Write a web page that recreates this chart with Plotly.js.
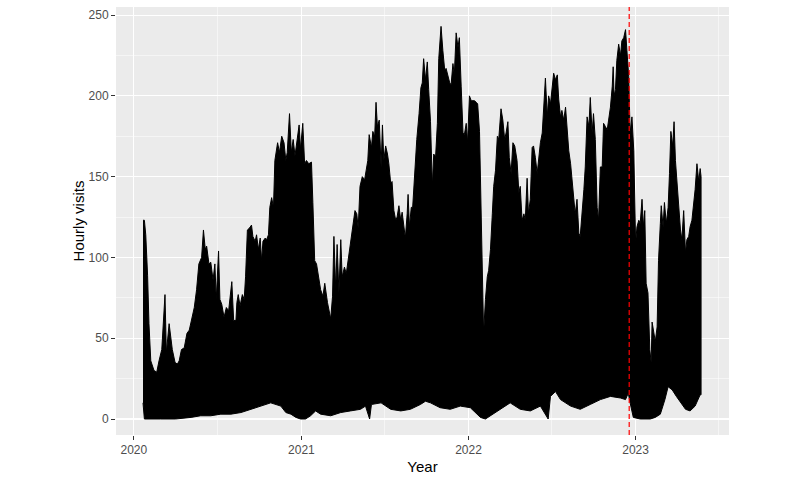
<!DOCTYPE html>
<html><head><meta charset="utf-8">
<script src="https://cdn.plot.ly/plotly-3.0.1.min.js"></script>
<style>html,body{margin:0;padding:0;background:#fff}#chart{width:800px;height:480px}</style>
</head><body><div id="chart"></div>
<script>
// Upper envelope of hourly visits (peaks)
const upperDates = [
"2020-01-21","2020-01-24","2020-01-27","2020-01-31","2020-02-03","2020-02-07","2020-02-14","2020-02-20","2020-02-25","2020-03-02",
"2020-03-09","2020-03-12","2020-03-18","2020-03-22","2020-03-25","2020-03-31","2020-04-05","2020-04-09","2020-04-14","2020-04-20",
"2020-04-26","2020-05-01","2020-05-06","2020-05-12","2020-05-17","2020-05-22","2020-05-28","2020-06-01","2020-06-05","2020-06-08",
"2020-06-13","2020-06-17","2020-06-22","2020-06-26","2020-06-29","2020-07-04","2020-07-07","2020-07-11","2020-07-16","2020-07-21",
"2020-07-26","2020-08-02","2020-08-06","2020-08-11","2020-08-13","2020-08-16","2020-08-20","2020-08-25","2020-08-29","2020-09-01",
"2020-09-05","2020-09-09","2020-09-14","2020-09-17","2020-09-22","2020-09-25","2020-09-29","2020-10-03","2020-10-06","2020-10-09",
"2020-10-14","2020-10-17","2020-10-21","2020-10-24","2020-10-28","2020-11-01","2020-11-04","2020-11-10","2020-11-14","2020-11-19",
"2020-11-24","2020-11-28","2020-12-01","2020-12-06","2020-12-10","2020-12-14","2020-12-18","2020-12-23","2020-12-27","2020-12-30",
"2021-01-04","2021-01-08","2021-01-12","2021-01-17","2021-01-23","2021-01-26","2021-01-30","2021-02-03","2021-02-07","2021-02-12",
"2021-02-17","2021-02-21","2021-02-27","2021-03-04","2021-03-06","2021-03-10","2021-03-13","2021-03-17","2021-03-20","2021-03-24",
"2021-03-28","2021-03-31","2021-04-05","2021-04-09","2021-04-13","2021-04-16","2021-04-21","2021-04-24","2021-04-28","2021-05-02",
"2021-05-05","2021-05-09","2021-05-14","2021-05-19","2021-05-23","2021-05-26","2021-05-29","2021-06-03","2021-06-06","2021-06-10",
"2021-06-13","2021-06-16","2021-06-20","2021-06-24","2021-06-27","2021-06-30","2021-07-04","2021-07-08","2021-07-11","2021-07-15",
"2021-07-18","2021-07-22","2021-07-26","2021-07-29","2021-08-02","2021-08-06","2021-08-09","2021-08-13","2021-08-16","2021-08-20",
"2021-08-22","2021-08-25","2021-08-29","2021-09-01","2021-09-05","2021-09-10","2021-09-15","2021-09-19","2021-09-22","2021-09-25",
"2021-09-29","2021-10-03","2021-10-06","2021-10-10","2021-10-14","2021-10-17","2021-10-21","2021-10-25","2021-10-28","2021-11-02",
"2021-11-06","2021-11-10","2021-11-13","2021-11-17","2021-11-21","2021-11-24","2021-11-28","2021-12-01","2021-12-05","2021-12-09",
"2021-12-12","2021-12-16","2021-12-20","2021-12-23","2021-12-27","2021-12-30","2022-01-03","2022-01-07","2022-01-10","2022-01-14",
"2022-01-18","2022-01-21","2022-01-25","2022-01-29","2022-02-01","2022-02-03","2022-02-07","2022-02-11","2022-02-14","2022-02-18",
"2022-02-22","2022-02-25","2022-03-01","2022-03-05","2022-03-08","2022-03-13","2022-03-17","2022-03-21","2022-03-24","2022-03-28",
"2022-03-31","2022-04-04","2022-04-08","2022-04-12","2022-04-17","2022-04-21","2022-04-24","2022-04-28","2022-05-02","2022-05-05",
"2022-05-09","2022-05-12","2022-05-16","2022-05-20","2022-05-23","2022-05-27","2022-05-31","2022-06-03","2022-06-07","2022-06-11",
"2022-06-14","2022-06-18","2022-06-22","2022-06-25","2022-06-29","2022-07-03","2022-07-06","2022-07-10","2022-07-14","2022-07-17",
"2022-07-21","2022-07-24","2022-07-28","2022-08-01","2022-08-04","2022-08-08","2022-08-12","2022-08-15","2022-08-19","2022-08-22",
"2022-08-26","2022-08-30","2022-09-02","2022-09-06","2022-09-10","2022-09-13","2022-09-17","2022-09-21","2022-09-24","2022-09-28",
"2022-10-01","2022-10-05","2022-10-09","2022-10-12","2022-10-16","2022-10-20","2022-10-23","2022-10-27","2022-10-31","2022-11-03",
"2022-11-07","2022-11-11","2022-11-13","2022-11-15","2022-11-18","2022-11-21","2022-11-25","2022-11-29","2022-12-02","2022-12-06",
"2022-12-10","2022-12-13","2022-12-17","2022-12-20","2022-12-24","2022-12-28","2022-12-30","2023-01-01","2023-01-04","2023-01-08",
"2023-01-11","2023-01-15","2023-01-18","2023-01-21","2023-01-24","2023-01-28","2023-02-01","2023-02-04","2023-02-06","2023-02-09",
"2023-02-13","2023-02-17","2023-02-20","2023-02-24","2023-02-26","2023-03-02","2023-03-05","2023-03-09","2023-03-13","2023-03-16",
"2023-03-19","2023-03-23","2023-03-26","2023-03-29","2023-04-01","2023-04-05","2023-04-09","2023-04-12","2023-04-16","2023-04-20",
"2023-04-23","2023-04-27","2023-04-30","2023-05-04","2023-05-08","2023-05-11","2023-05-15","2023-05-19","2023-05-22","2023-05-24"
];
const upperVisits = [
123,123,114,89,59,36,30,29,36,43,
77,41,59,49,43,35,34,36,43,44,
53,55,61,69,80,96,100,117,105,107,
96,97,86,96,74,104,74,71,63,69,
67,85,61,61,72,77,70,77,74,88,
117,118,120,113,110,114,105,112,98,110,
112,111,114,131,137,131,160,171,165,175,
171,160,165,189,165,173,163,173,182,167,
183,158,160,158,159,134,98,96,90,80,
76,84,72,63,62,76,113,80,108,78,
111,88,94,90,98,106,117,121,129,127,
118,144,150,148,154,160,176,168,178,175,
196,181,185,156,182,160,169,164,158,146,
147,129,123,125,132,123,128,119,112,127,
139,119,131,131,150,173,189,205,208,223,
210,221,204,184,144,164,162,183,223,243,
228,216,217,212,208,207,220,213,239,230,
236,206,177,176,183,171,200,197,197,197,
196,195,178,131,78,53,74,88,92,105,
127,144,154,175,173,192,185,173,177,184,
162,152,171,169,160,140,144,123,127,123,
149,127,136,168,169,162,152,160,171,177,
189,211,187,200,195,206,214,210,213,198,
187,191,185,193,181,166,158,150,136,127,
136,115,113,125,142,156,187,181,199,177,
189,173,131,123,156,156,183,181,179,185,
193,206,218,200,204,222,232,225,234,236,
241,228,212,177,187,166,144,109,119,123,
121,136,119,129,84,78,43,35,60,55,
48,57,98,121,132,119,134,121,131,152,
178,169,184,160,149,129,117,111,129,103,
111,113,119,123,134,142,158,147,155,150
];
// Lower envelope of hourly visits (night-time troughs)
const lowerDates = [
"2020-01-21","2020-01-24","2020-02-28","2020-04-01","2020-05-05","2020-05-26","2020-06-17","2020-07-09","2020-07-31","2020-08-22",
"2020-09-12","2020-10-04","2020-10-26","2020-11-17","2020-11-28","2020-12-09","2020-12-20","2020-12-30","2021-01-10","2021-01-21",
"2021-02-01","2021-02-12","2021-03-06","2021-03-28","2021-04-18","2021-05-10","2021-05-21","2021-05-30","2021-06-03","2021-06-24",
"2021-07-04","2021-07-15","2021-08-06","2021-08-27","2021-09-18","2021-09-29","2021-10-10","2021-10-31","2021-11-22","2021-12-14",
"2022-01-05","2022-01-16","2022-01-27","2022-02-07","2022-02-18","2022-03-01","2022-03-12","2022-04-02","2022-04-24","2022-05-16",
"2022-06-07","2022-06-24","2022-06-29","2022-07-10","2022-07-21","2022-08-12","2022-09-02","2022-09-24","2022-10-16","2022-11-07",
"2022-11-29","2022-12-10","2022-12-16","2022-12-20","2022-12-27","2023-01-11","2023-02-02","2023-02-13","2023-02-24","2023-03-06",
"2023-03-13","2023-03-22","2023-03-31","2023-04-09","2023-04-20","2023-04-30","2023-05-11","2023-05-22","2023-05-24"
];
const lowerVisits = [
10,0,0,0,1,2,2,3,3,4,
6,8,10,8,4,3,1,0,0,2,
5,3,2,4,5,6,8,0,9,10,
8,6,5,6,9,11,10,7,6,8,
7,4,1,0,2,4,6,10,6,5,
8,0,14,17,12,8,6,9,12,14,
13,12,16,10,1,0,0,1,3,12,
20,18,14,10,6,5,8,15,15
];
const cutoffDate = "2022-12-18";
const xTitle = "Year";
const yTitle = "Hourly visits";

const polyX = upperDates.concat(lowerDates.slice().reverse());
const polyY = upperVisits.concat(lowerVisits.slice().reverse());

const trace = {
  type: 'scatter', mode: 'lines', x: polyX, y: polyY,
  fill: 'toself', fillcolor: '#000000',
  line: {color: '#000000', width: 1}, hoverinfo: 'skip'
};

const layout = {
  width: 800, height: 480,
  margin: {l: 116, r: 71, t: 7, b: 45},
  paper_bgcolor: '#ffffff', plot_bgcolor: '#EBEBEB',
  font: {family: 'Liberation Sans, Arial, sans-serif', color: '#4D4D4D', size: 12},
  showlegend: false,
  xaxis: {
    type: 'date', range: ['2019-11-23', '2023-07-24'],
    tickmode: 'linear', tick0: '2020-01-01', dtick: 'M12', tickformat: '%Y',
    ticks: 'outside', ticklen: 4, tickcolor: '#333333', tickwidth: 1,
    showgrid: true, gridcolor: '#ffffff', gridwidth: 1.1,
    minor: {dtick: 'M6', tick0: '2020-01-01', showgrid: true, gridcolor: '#ffffff', gridwidth: 0.5, ticks: ''},
    zeroline: false, showline: false,
    tickfont: {size: 12, color: '#4D4D4D'},
    title: {text: xTitle, font: {size: 15, color: '#000000'}, standoff: 5}
  },
  yaxis: {
    range: [-9.9, 255], tickmode: 'linear', tick0: 0, dtick: 50,
    ticks: 'outside', ticklen: 4, tickcolor: '#333333', tickwidth: 1,
    showgrid: true, gridcolor: '#ffffff', gridwidth: 1.1,
    minor: {dtick: 25, tick0: 0, showgrid: true, gridcolor: '#ffffff', gridwidth: 0.5, ticks: ''},
    zeroline: false, showline: false,
    tickfont: {size: 12, color: '#4D4D4D'},
    title: {text: yTitle, font: {size: 15, color: '#000000'}, standoff: 0}
  },
  shapes: [{
    type: 'line', xref: 'x', yref: 'paper', x0: cutoffDate, x1: cutoffDate, y0: 0, y1: 1,
    line: {color: '#FF0000', width: 1.2, dash: '5px,3px'}, layer: 'above'
  }]
};

Plotly.newPlot('chart', [trace], layout, {staticPlot: true, displayModeBar: false});
</script>
</body></html>
